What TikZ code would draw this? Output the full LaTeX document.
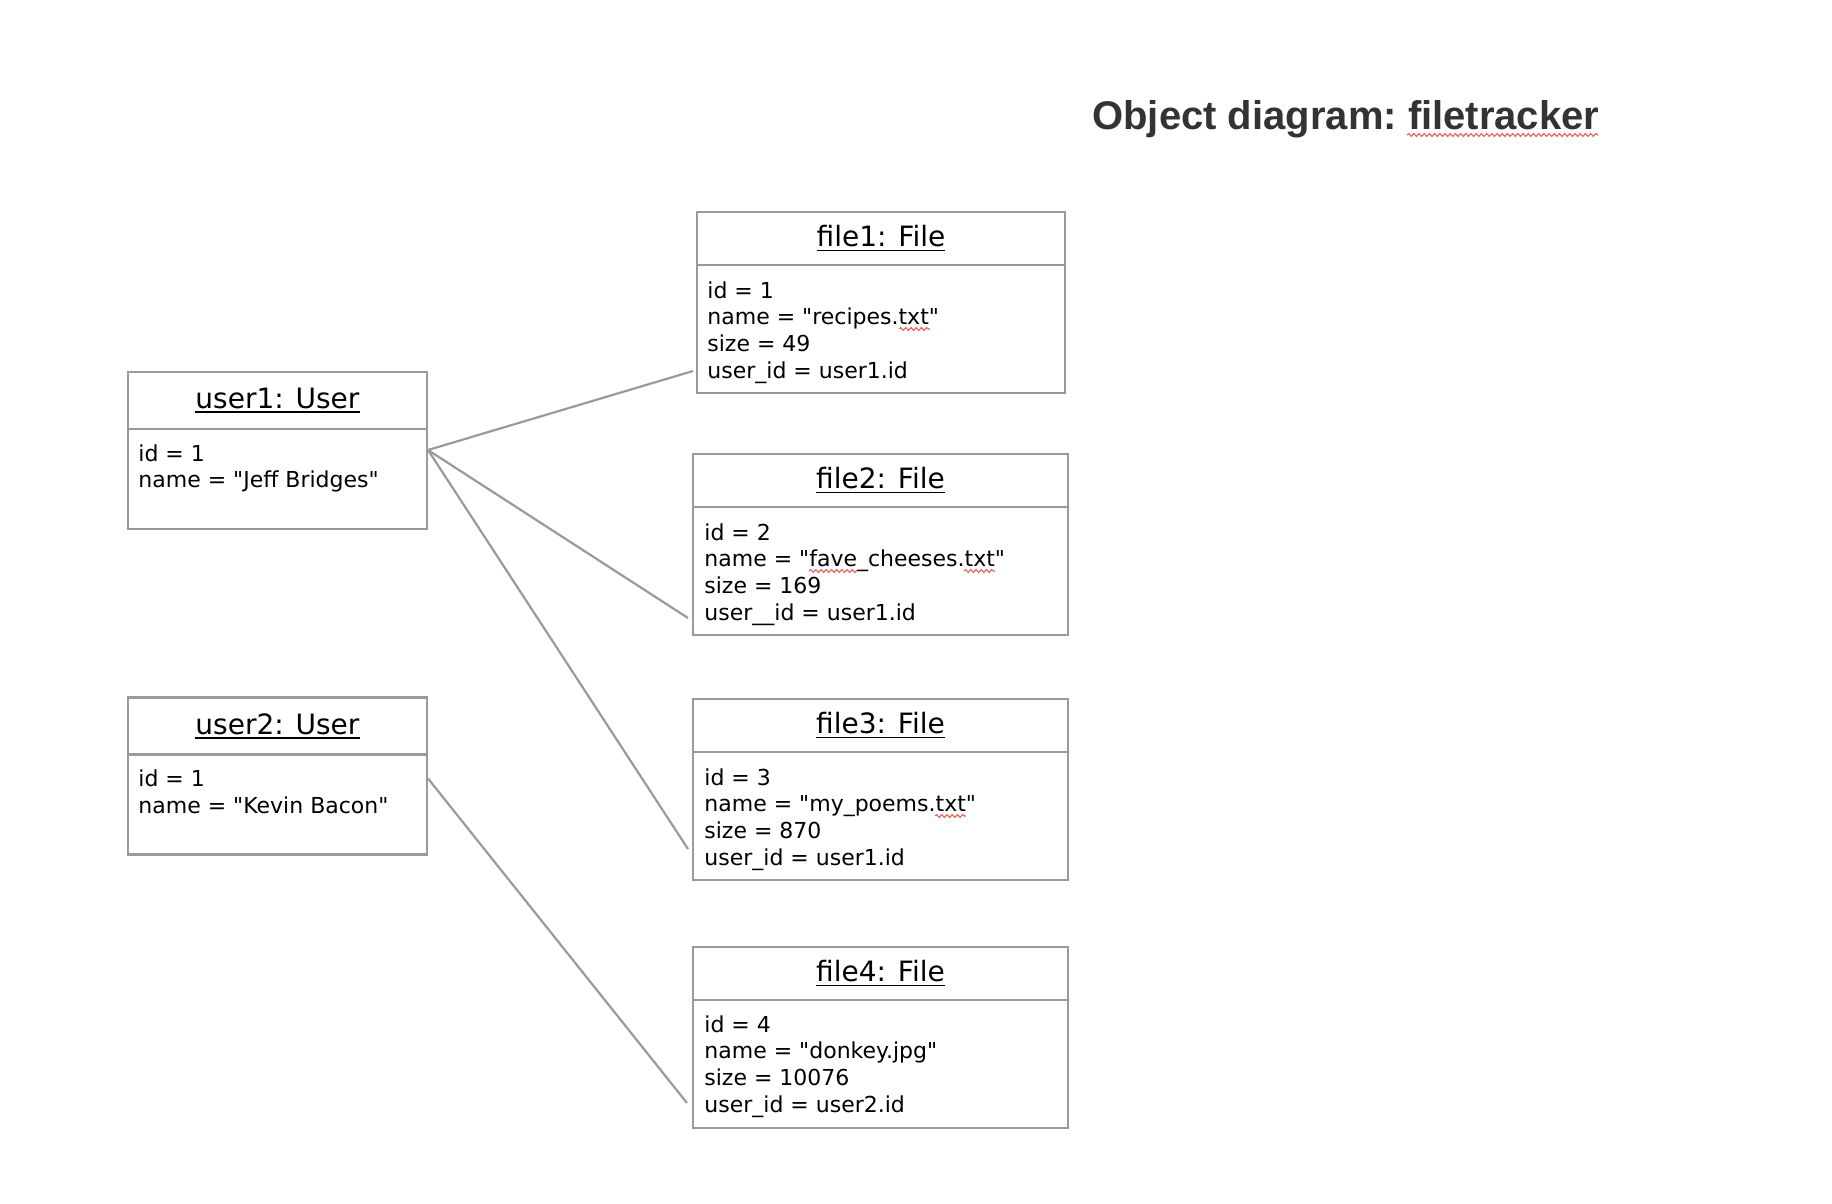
\documentclass[tikz,border=0pt]{standalone}
\usepackage{fontspec}
\setmainfont{DejaVu Sans}
\newfontfamily\titlefam{Liberation Sans}
\usetikzlibrary{positioning,decorations.pathmorphing}

\definecolor{boxgray}{HTML}{9A9A9A}
\definecolor{inkgray}{HTML}{333333}
\definecolor{spellred}{HTML}{E8675F}

% straight quotes and a heavier underline for object names
\newcommand{\qt}[1]{\textquotedbl#1\textquotedbl}
\newcommand{\objname}[1]{\setbox0\hbox{#1}\rlap{\rule[-2.2pt]{\wd0}{0.85pt}}\box0}

\tikzset{
  objhead/.style = {draw = boxgray, line width = 1.1pt, outer sep = 0pt, inner sep = 0pt,
    font = \fontsize{14}{16}\selectfont},
  objbody/.style = {draw = boxgray, line width = 1.1pt, outer sep = 0pt, inner sep = 0pt},
  userhead/.style = {objhead, minimum width = 149.5pt, minimum height = 28.5pt},
  userbody/.style = {objbody, minimum width = 149.5pt, minimum height = 50pt},
  filehead/.style = {objhead, minimum width = 187.5pt, minimum height = 26.5pt},
  filebody/.style = {objbody, minimum width = 187.5pt, minimum height = 64pt},
  attrs/.style = {anchor = north west, inner sep = 0pt, align = left,
    font = \fontsize{11}{13.35}\selectfont},
  link/.style = {draw = boxgray, line width = 1.1pt},
  spell/.style = {draw = spellred, line width = 0.6pt, decorate,
    decoration = {snake, amplitude = 0.7pt, segment length = 2.6pt}}
}

\begin{document}
\begin{tikzpicture}[x = 0.5pt, y = -0.5pt]
\useasboundingbox (0,0) rectangle (1832,1204);

\node (title) [anchor = base west, inner sep = 0pt, text = inkgray,
  font = \titlefam\bfseries\fontsize{20}{24}\selectfont] at (1092,130) {Object diagram:\ filetracker};

% users
\node (u1h) [userhead] at (277.5,400.5) {\objname{user1: User}};
\node (u1) [userbody, below = 0pt of u1h] {};
\node (u1a) [attrs] at ([shift = {(10,15)}]u1.north west) {id = 1\\name = \qt{Jeff Bridges}};

\node (u2h) [userhead] at (277.5,726) {\objname{user2: User}};
\node (u2) [userbody, below = 0pt of u2h] {};
\node (u2a) [attrs] at ([shift = {(10,15)}]u2.north west) {id = 1\\name = \qt{Kevin Bacon}};

% files
\node (f1h) [filehead, minimum width = 184pt] at (881,238.5) {\objname{file1: File}};
\node (f1) [filebody, minimum width = 184pt, below = 0pt of f1h] {};
\node (f1a) [attrs] at ([shift = {(10,16)}]f1.north west) {id = 1\\name = \qt{recipes.txt}\\size = 49\\user\_id = user1.id};

\node (f2h) [filehead] at (880.5,480.5) {\objname{file2: File}};
\node (f2) [filebody, below = 0pt of f2h] {};
\node (f2a) [attrs] at ([shift = {(11,16)}]f2.north west) {id = 2\\name = \qt{fave\_cheeses.txt}\\size = 169\\user\_\_id = user1.id};

\node (f3h) [filehead] at (880.5,725.5) {\objname{file3: File}};
\node (f3) [filebody, below = 0pt of f3h] {};
\node (f3a) [attrs] at ([shift = {(11,16)}]f3.north west) {id = 3\\name = \qt{my\_poems.txt}\\size = 870\\user\_id = user1.id};

\node (f4h) [filehead] at (880.5,973.5) {\objname{file4: File}};
\node (f4) [filebody, below = 0pt of f4h] {};
\node (f4a) [attrs] at ([shift = {(11,15)}]f4.north west) {id = 4\\name = \qt{donkey.jpg}\\size = 10076\\user\_id = user2.id};

% link ends
\coordinate (u1out) at ([shift = {(1,21)}]u1.north east);
\coordinate (u2out) at ([shift = {(1,24)}]u2.north east);
\coordinate (f1in) at ([shift = {(-4,-22)}]f1.south west);
\coordinate (f2in) at ([shift = {(-5,-17)}]f2.south west);
\coordinate (f3in) at ([shift = {(-5,-31)}]f3.south west);
\coordinate (f4in) at ([shift = {(-6,-25)}]f4.south west);

\draw [link] (u1out) -- (f1in);
\draw [link] (u1out) -- (f2in);
\draw [link] (u1out) -- (f3in);
\draw [link] (u2out) -- (f4in);

% spell marks
\draw [spell] ([shift = {(315,5)}]title.base west) -- ++(191,0);
\draw [spell] ([shift = {(192,48)}]f1a.north west) -- ++(31,0);
\draw [spell] ([shift = {(105,48)}]f2a.north west) -- ++(48,0);
\draw [spell] ([shift = {(260,48)}]f2a.north west) -- ++(31,0);
\draw [spell] ([shift = {(231,48)}]f3a.north west) -- ++(31,0);
\end{tikzpicture}
\end{document}
